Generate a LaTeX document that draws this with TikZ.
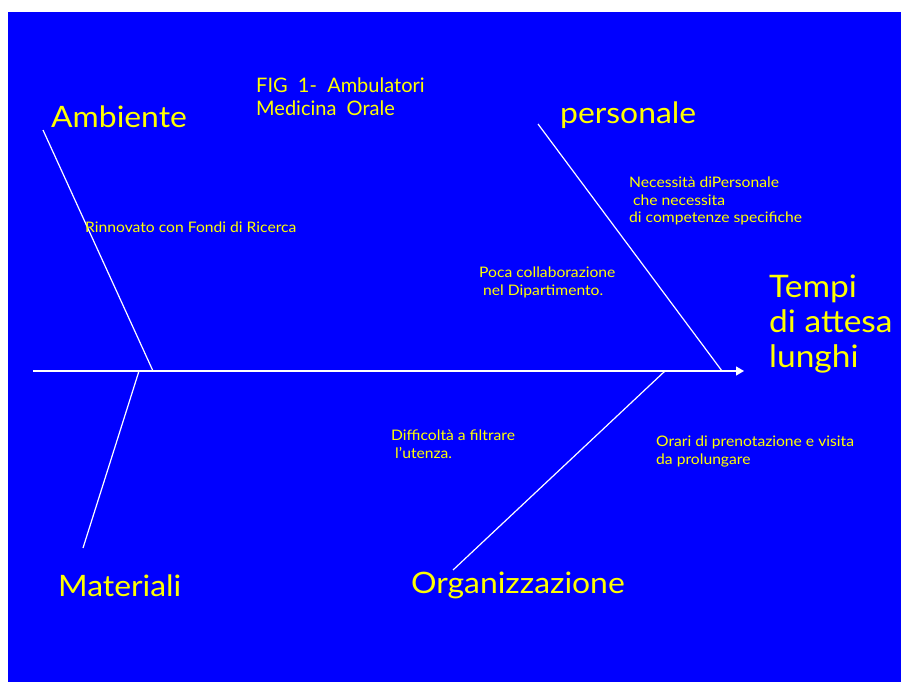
\documentclass[tikz,border=0pt]{standalone}
\usepackage{fontspec}
\setmainfont{Lato}[FakeStretch=1.08]
\newfontfamily\titlefont{Lato}
\usetikzlibrary{arrows.meta}
\definecolor{slideblue}{RGB}{0,0,255}
\definecolor{slideyellow}{RGB}{255,255,0}
\begin{document}
\begin{tikzpicture}[x=1pt,y=-1pt,
  bone/.style={draw=white,line width=1.2pt},
  category/.style={text=slideyellow,font=\fontsize{29.5}{34}\selectfont,inner sep=0pt,anchor=base west},
  effect/.style={text=slideyellow,font=\fontsize{31}{35}\selectfont,inner sep=0pt,anchor=north west,align=left},
  title/.style={text=slideyellow,font=\titlefont\fontsize{20}{23}\selectfont,inner sep=0pt,anchor=north west,align=left},
  cause/.style={text=slideyellow,font=\fontsize{14.5}{17.5}\selectfont,inner sep=0pt,anchor=north west,align=left},
]
\useasboundingbox (0,0) rectangle (901,682);
\fill[white] (0,0) rectangle (901,682);
\fill[slideblue] (8,12) rectangle (901,682);

% spine and its head
\coordinate (tail) at (33,371);
\coordinate (head) at (744,371);
\draw[bone,-{Triangle[length=8pt,width=9pt]}] (tail) -- (head);

% joints on the spine and free ends of the bones
\coordinate (jA) at (153,371);
\coordinate (jM) at (139,371);
\coordinate (jP) at (722,371);
\coordinate (jO) at (665,371);
\coordinate (eA) at (43,130);
\coordinate (eM) at (83,548);
\coordinate (eP) at (538,124);
\coordinate (eO) at (453,570);
\draw[bone] (eA) -- (jA);
\draw[bone] (jM) -- (eM);
\draw[bone] (eP) -- (jP);
\draw[bone] (jO) -- (eO);

% categories
\node[category] (ambiente) at (51,128) {Ambiente};
\node[category] (personale) at (560,123) {personale};
\node[category] (materiali) at (58,596) {Materiali};
\node[category] (organizzazione) at (411,593) {Organizzazione};

% title
\node[title] (fig) at (256,78) {FIG\ \ 1-\ \ Ambulatori\\Medicina\ \ Orale};

% effect
\node[effect] (effetto) at (769,275) {Tempi\\di attesa\\lunghi};

% causes
\node[cause] (rinnovato) at (85,222) {Rinnovato con Fondi di Ricerca};
\node[cause] (necessita) at (629,177) {Necessità diPersonale\\\ che necessita\\di competenze specifiche};
\node[cause] (poca) at (479,267) {Poca collaborazione\\\ nel Dipartimento.};
\node[cause] (difficolta) at (391,430) {Difficoltà a filtrare\\\ l’utenza.};
\node[cause] (orari) at (656,436) {Orari di prenotazione e visita\\da prolungare};
\end{tikzpicture}
\end{document}
